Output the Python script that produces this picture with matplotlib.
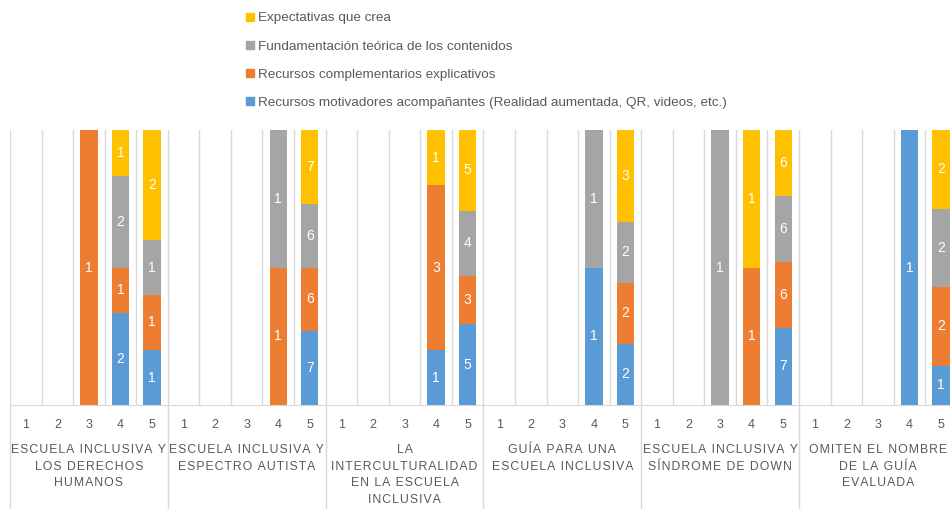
import numpy as np
import matplotlib.pyplot as plt
from matplotlib.patches import Patch

plt.rcParams['font.family'] = ['Liberation Sans', 'DejaVu Sans']

groups = ["ESCUELA INCLUSIVA Y\nLOS DERECHOS\nHUMANOS",
          "ESCUELA INCLUSIVA Y\nESPECTRO AUTISTA",
          "LA\nINTERCULTURALIDAD\nEN LA ESCUELA\nINCLUSIVA",
          "GUÍA PARA UNA\nESCUELA INCLUSIVA",
          "ESCUELA INCLUSIVA Y\nSÍNDROME DE DOWN",
          "OMITEN EL NOMBRE\nDE LA GUÍA\nEVALUADA"]
ratings = ["1", "2", "3", "4", "5"]

series = ["Recursos motivadores acompañantes (Realidad aumentada, QR, videos, etc.)",
          "Recursos complementarios explicativos",
          "Fundamentación teórica de los contenidos",
          "Expectativas que crea"]
colors = ["#5B9BD5", "#ED7D31", "#A5A5A5", "#FFC000"]

# counts per group, ratings 1..5
motivadores = [[0, 0, 0, 2, 1], [0, 0, 0, 0, 7], [0, 0, 0, 1, 5],
               [0, 0, 0, 1, 2], [0, 0, 0, 0, 7], [0, 0, 0, 1, 1]]
complementarios = [[0, 0, 1, 1, 1], [0, 0, 0, 1, 6], [0, 0, 0, 3, 3],
                   [0, 0, 0, 0, 2], [0, 0, 0, 1, 6], [0, 0, 0, 0, 2]]
fundamentacion = [[0, 0, 0, 2, 1], [0, 0, 0, 1, 6], [0, 0, 0, 0, 4],
                  [0, 0, 0, 1, 2], [0, 0, 1, 0, 6], [0, 0, 0, 0, 2]]
expectativas = [[0, 0, 0, 1, 2], [0, 0, 0, 0, 7], [0, 0, 0, 1, 5],
                [0, 0, 0, 0, 3], [0, 0, 0, 1, 6], [0, 0, 0, 0, 2]]

data = np.array([np.ravel(motivadores), np.ravel(complementarios),
                 np.ravel(fundamentacion), np.ravel(expectativas)], dtype=float)
totals = data.sum(axis=0)
share = np.divide(data, totals, out=np.zeros_like(data), where=totals > 0)

fig = plt.figure(figsize=(9.5, 5.09), dpi=100)
ax = fig.add_axes([10 / 950, 104 / 509, 946.8 / 950, 275 / 509])

x = np.arange(len(groups) * len(ratings))
bottom = np.zeros(len(x))
handles = []
for i in range(4):
    bars = ax.bar(x, share[i], 0.55, bottom=bottom, color=colors[i], zorder=3)
    labels = [str(int(v)) if v > 0 else "" for v in data[i]]
    ax.bar_label(bars, labels=labels, label_type='center', color='white', fontsize=10)
    bottom += share[i]
    handles.append(Patch(color=colors[i], label=series[i]))

ax.set_xlim(-0.5, len(x) - 0.5)
ax.set_ylim(0, 1)
ax.set_yticks([])
ax.set_xticks(x)
ax.set_xticklabels(ratings * len(groups), color='#595959', fontsize=9)
ax.set_xticks(np.arange(len(x) + 1) - 0.5, minor=True)
ax.tick_params(axis='x', which='both', length=0, pad=10)
ax.grid(axis='x', which='minor', color='#d9d9d9', linewidth=1, zorder=0)
for s in ['top', 'right', 'left']:
    ax.spines[s].set_visible(False)
ax.spines['bottom'].set_color('#d9d9d9')

def spaced(t):
    return "\n".join("\u200a".join(line) for line in t.split("\n"))

for g, name in enumerate(groups):
    ax.axvline(g * 5 - 0.5, ymin=-0.4, ymax=0, color='#d9d9d9', linewidth=1, clip_on=False)
    ax.text(g * 5 + 2, -0.143, spaced(name), ha='center', va='top', fontsize=8.8,
            color='#595959', linespacing=1.5, transform=ax.get_xaxis_transform())

fig.legend(handles=handles[::-1], loc='upper left', bbox_to_anchor=(241 / 950, 1 - 7 / 509),
           frameon=False, fontsize=9.7, labelcolor='#595959', handlelength=0.55,
           handleheight=0.55, handletextpad=0.3, labelspacing=1.2, borderaxespad=0)

fig.savefig("out.png", dpi=100)
